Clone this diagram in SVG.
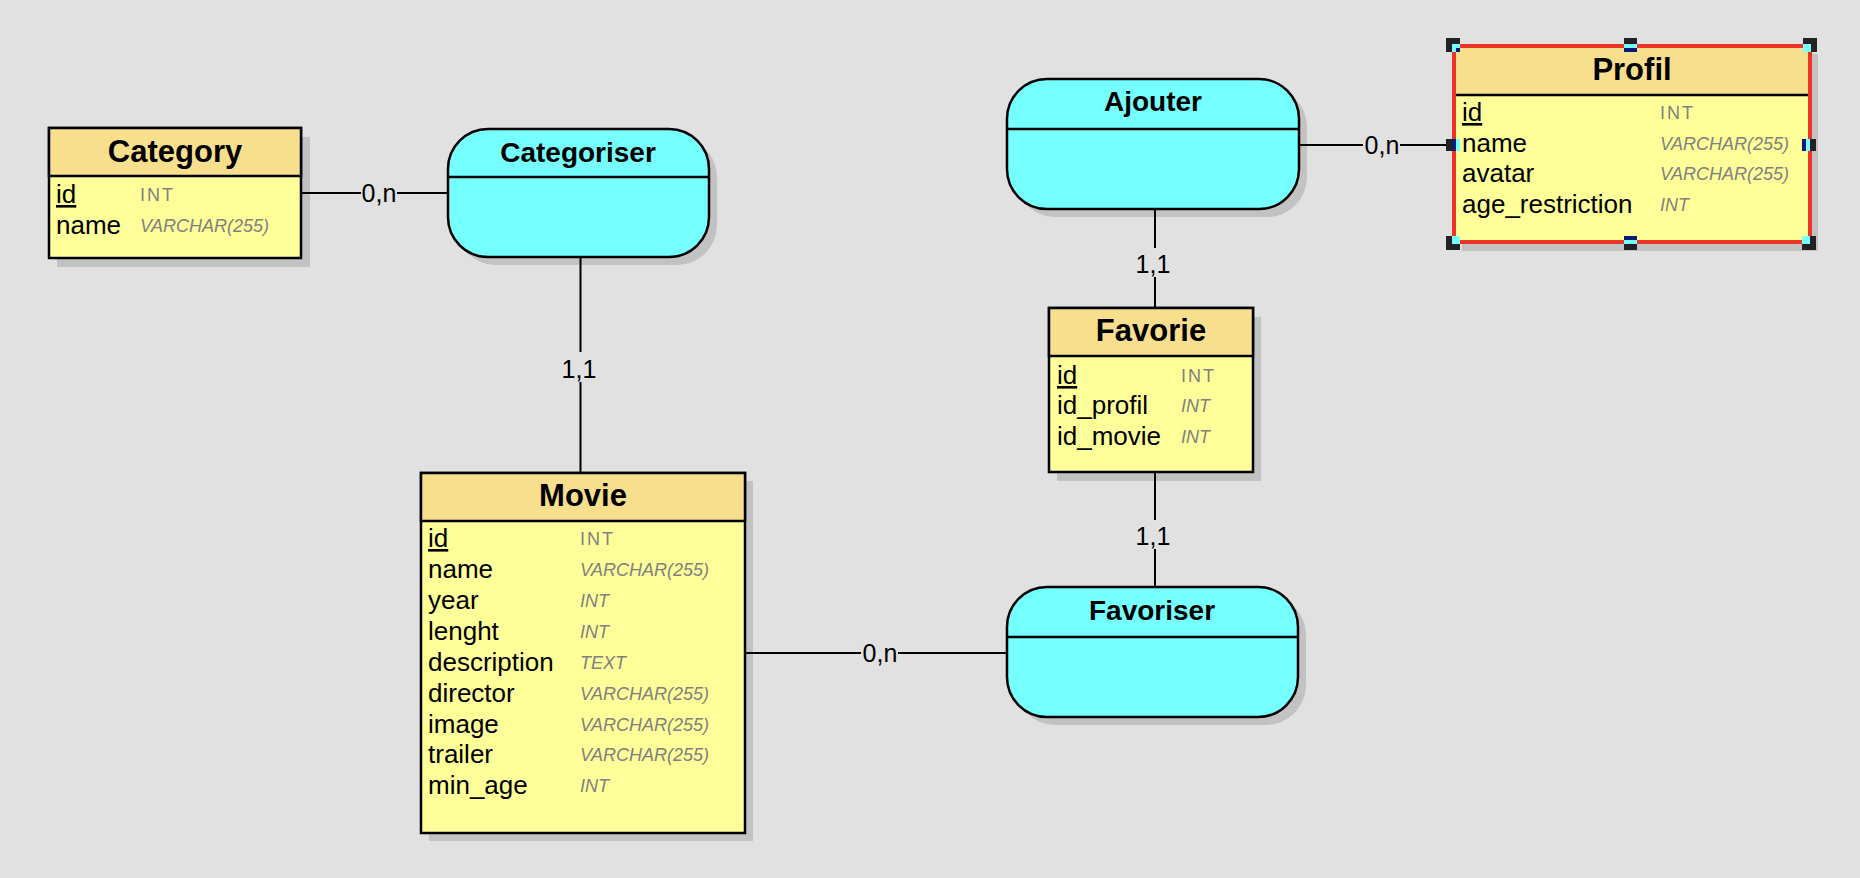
<svg xmlns="http://www.w3.org/2000/svg" width="1860" height="878" viewBox="0 0 1860 878">
<style>
.bg{fill:#e1e1e1}
.sh{fill:#c2c2c2}
.hd{fill:#f8df8e;stroke:#000;stroke-width:2.5}
.bd{fill:#ffff99;stroke:#000;stroke-width:2.5}
.as{fill:#75ffff;stroke:#000;stroke-width:2.5}
.ln{stroke:#000;stroke-width:2.5;fill:none}
.cn{stroke:#000;stroke-width:2;fill:none}
.et{font-family:"Liberation Sans",Arial,sans-serif;font-weight:bold;font-size:31px;fill:#000;text-anchor:middle}
.at{font-family:"Liberation Sans",Arial,sans-serif;font-weight:bold;font-size:28px;fill:#000;text-anchor:middle}
.f{font-family:"Liberation Sans",Arial,sans-serif;font-size:26px;fill:#000}
.k{text-decoration:underline}
.t{font-family:"Liberation Sans",Arial,sans-serif;font-size:18px;fill:#808080;font-style:italic}
.tk{font-family:"Liberation Sans",Arial,sans-serif;font-size:18px;fill:#808080;letter-spacing:2px}
.lb{font-family:"Liberation Sans",Arial,sans-serif;font-size:25px;fill:#000;text-anchor:middle}
.hk{fill:#222}
.hc{fill:#75ffff}
.hn{fill:#0a1a7a}
</style>
<rect class="bg" x="0" y="0" width="1860" height="878"/>

<g id="category">
  <rect class="sh" x="57" y="137" width="253" height="130"/>
  <rect class="bd" x="49" y="128" width="252" height="130"/>
  <rect class="hd" x="49" y="128" width="252" height="48"/>
  <text class="et" x="175" y="162">Category</text>
  <text class="f k" x="56" y="203">id</text>
  <text class="tk" x="140" y="201">INT</text>
  <text class="f" x="56" y="234">name</text>
  <text class="t" x="140" y="232">VARCHAR(255)</text>
</g>

<g id="categoriser">
  <rect class="sh" x="456" y="137" width="261" height="128" rx="40" ry="40"/>
  <rect class="as" x="448" y="129" width="261" height="128" rx="40" ry="40"/>
  <line class="ln" x1="448" y1="177" x2="709" y2="177"/>
  <text class="at" x="578" y="162">Categoriser</text>
</g>

<g id="movie">
  <rect class="sh" x="429" y="481" width="324" height="360"/>
  <rect class="bd" x="421" y="473" width="324" height="360"/>
  <rect class="hd" x="421" y="473" width="324" height="48"/>
  <text class="et" x="583" y="506">Movie</text>
  <text class="f k" x="428" y="547">id</text>
  <text class="tk" x="580" y="545">INT</text>
  <text class="f" x="428" y="578">name</text>
  <text class="t" x="580" y="576">VARCHAR(255)</text>
  <text class="f" x="428" y="609">year</text>
  <text class="t" x="580" y="607">INT</text>
  <text class="f" x="428" y="640">lenght</text>
  <text class="t" x="580" y="638">INT</text>
  <text class="f" x="428" y="671">description</text>
  <text class="t" x="580" y="669">TEXT</text>
  <text class="f" x="428" y="702">director</text>
  <text class="t" x="580" y="700">VARCHAR(255)</text>
  <text class="f" x="428" y="733">image</text>
  <text class="t" x="580" y="731">VARCHAR(255)</text>
  <text class="f" x="428" y="763">trailer</text>
  <text class="t" x="580" y="761">VARCHAR(255)</text>
  <text class="f" x="428" y="794">min_age</text>
  <text class="t" x="580" y="792">INT</text>
</g>

<g id="favoriser">
  <rect class="sh" x="1015" y="595" width="291" height="130" rx="40" ry="40"/>
  <rect class="as" x="1007" y="587" width="291" height="130" rx="40" ry="40"/>
  <line class="ln" x1="1007" y1="637" x2="1298" y2="637"/>
  <text class="at" x="1152" y="620">Favoriser</text>
</g>

<g id="favorie">
  <rect class="sh" x="1057" y="317" width="204" height="164"/>
  <rect class="bd" x="1049" y="308" width="204" height="164"/>
  <rect class="hd" x="1049" y="308" width="204" height="48"/>
  <text class="et" x="1151" y="341">Favorie</text>
  <text class="f k" x="1057" y="384">id</text>
  <text class="tk" x="1181" y="382">INT</text>
  <text class="f" x="1057" y="414">id_profil</text>
  <text class="t" x="1181" y="412">INT</text>
  <text class="f" x="1057" y="445">id_movie</text>
  <text class="t" x="1181" y="443">INT</text>
</g>

<g id="ajouter">
  <rect class="sh" x="1015" y="87" width="292" height="130" rx="40" ry="40"/>
  <rect class="as" x="1007" y="79" width="292" height="130" rx="40" ry="40"/>
  <line class="ln" x1="1007" y1="129" x2="1299" y2="129"/>
  <text class="at" x="1153" y="111">Ajouter</text>
</g>

<g id="profil">
  <rect class="sh" x="1462" y="54" width="356" height="197"/>
  <rect fill="#ffff99" x="1454" y="46" width="356" height="196"/>
  <rect fill="#f8df8e" x="1454" y="46" width="356" height="49"/>
  <line class="ln" x1="1454" y1="95" x2="1810" y2="95"/>
  <rect x="1454" y="46" width="356" height="196" fill="none" stroke="#ee3524" stroke-width="4"/>
  <text class="et" x="1632" y="80">Profil</text>
  <text class="f k" x="1462" y="121">id</text>
  <text class="tk" x="1660" y="119">INT</text>
  <text class="f" x="1462" y="152">name</text>
  <text class="t" x="1660" y="150">VARCHAR(255)</text>
  <text class="f" x="1462" y="182">avatar</text>
  <text class="t" x="1660" y="180">VARCHAR(255)</text>
  <text class="f" x="1462" y="213">age_restriction</text>
  <text class="t" x="1660" y="211">INT</text>
</g>

<g id="connectors">
  <line class="cn" x1="301" y1="193" x2="361" y2="193"/>
  <line class="cn" x1="397" y1="193" x2="448" y2="193"/>
  <text class="lb" x="379" y="202">0,n</text>

  <line class="cn" x1="580.5" y1="257" x2="580.5" y2="352"/>
  <line class="cn" x1="580.5" y1="382" x2="580.5" y2="472"/>
  <text class="lb" x="579" y="378">1,1</text>

  <line class="cn" x1="745" y1="653" x2="861" y2="653"/>
  <line class="cn" x1="898" y1="653" x2="1007" y2="653"/>
  <text class="lb" x="880" y="662">0,n</text>

  <line class="cn" x1="1155" y1="472" x2="1155" y2="520"/>
  <line class="cn" x1="1155" y1="549" x2="1155" y2="587"/>
  <text class="lb" x="1153" y="545">1,1</text>

  <line class="cn" x1="1155" y1="209" x2="1155" y2="248"/>
  <line class="cn" x1="1155" y1="277" x2="1155" y2="308"/>
  <text class="lb" x="1153" y="273">1,1</text>

  <line class="cn" x1="1299" y1="145" x2="1363" y2="145"/>
  <line class="cn" x1="1400" y1="145" x2="1452" y2="145"/>
  <text class="lb" x="1382" y="154">0,n</text>
</g>

<g id="handles">
  <rect class="hk" x="1446" y="38" width="14" height="14"/>
  <rect class="hc" x="1452" y="44" width="8" height="8"/>
  <rect class="hn" x="1456" y="48" width="4" height="4"/>
  <rect class="hk" x="1624" y="38" width="13" height="14"/>
  <rect class="hc" x="1624" y="44" width="13" height="4"/>
  <rect class="hn" x="1624" y="48" width="13" height="4"/>
  <rect class="hk" x="1803" y="38" width="14" height="14"/>
  <rect class="hc" x="1803" y="44" width="8" height="8"/>
  <rect class="hk" x="1446" y="139" width="14" height="12"/>
  <rect class="hn" x="1452" y="139" width="4" height="12"/>
  <rect class="hc" x="1456" y="139" width="4" height="12"/>
  <rect class="hk" x="1802" y="139" width="14" height="12"/>
  <rect class="hn" x="1802" y="139" width="4" height="12"/>
  <rect class="hc" x="1806" y="139" width="4" height="12"/>
  <rect class="hk" x="1446" y="236" width="14" height="14"/>
  <rect class="hc" x="1452" y="236" width="8" height="8"/>
  <rect class="hk" x="1624" y="236" width="13" height="14"/>
  <rect class="hn" x="1624" y="236" width="13" height="4"/>
  <rect class="hc" x="1624" y="240" width="13" height="4"/>
  <rect class="hk" x="1802" y="236" width="14" height="14"/>
  <rect class="hc" x="1802" y="236" width="8" height="8"/>
</g>
</svg>
